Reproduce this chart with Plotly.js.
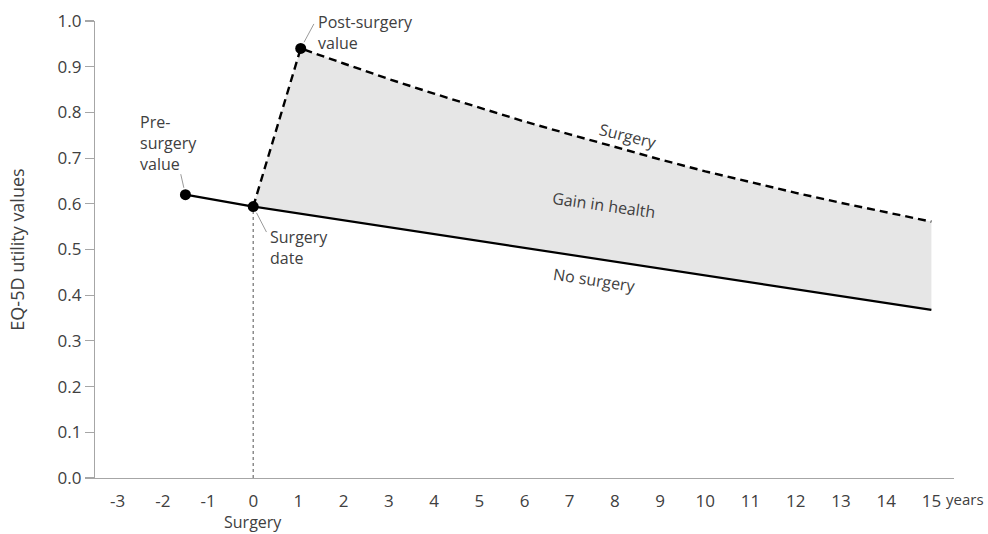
<!DOCTYPE html>
<html>
<head>
<meta charset="utf-8">
<script src="https://cdn.plot.ly/plotly-3.0.1.min.js"></script>
<style>
  html, body { margin: 0; padding: 0; background: #fff; }
  #chart { width: 988px; height: 534px; }
</style>
</head>
<body>
<div id="chart"></div>
<script>
// ---- data ----
const tickYears = [-3, -2, -1, 0, 1, 2, 3, 4, 5, 6, 7, 8, 9, 10, 11, 12, 13, 14, 15];
const tickLabels = ['-3', '-2', '-1', '0', '1', '2', '3', '4', '5', '6', '7', '8', '9', '10', '11', '12', '13', '14', '15'];
const tickBoundaries = [-3.5, -2.5, -1.5, -0.5, 0.5, 1.5, 2.5, 3.5, 4.5, 5.5, 6.5, 7.5, 8.5, 9.5, 10.5, 11.5, 12.5, 13.5, 14.5, 15.5];

const noSurgeryYears = [-1.5, 0, 15];
const noSurgeryValues = [0.62, 0.594, 0.368];

const surgeryYears = [0, 1.05, 2, 3, 4, 5, 6, 7, 8, 9, 10, 11, 12, 13, 14, 15];
const surgeryValues = [0.594, 0.94, 0.907, 0.873, 0.841, 0.810, 0.780, 0.752, 0.724, 0.697, 0.671, 0.647, 0.624, 0.602, 0.581, 0.561];

const keyYears = [-1.5, 0, 1.05];
const keyValues = [0.62, 0.594, 0.94];

// ---- style ----
const FONT = 'Open Sans, sans-serif';
const TXT = '#404040';
const AXIS = '#a6a6a6';

// fill polygon built from the series
const fillX = surgeryYears.concat(noSurgeryYears.slice(1).reverse());
const fillY = surgeryValues.concat(noSurgeryValues.slice(1).reverse());

const traces = [
  { x: fillX, y: fillY, type: 'scatter', mode: 'lines', fill: 'toself',
    fillcolor: '#e6e6e6', line: { width: 0 }, hoverinfo: 'skip', showlegend: false },
  { x: [keyYears[1], keyYears[1]], y: [0, keyValues[1]], type: 'scatter', mode: 'lines',
    line: { color: '#8c8c8c', width: 1.5, dash: 'dot' }, showlegend: false },
  { x: noSurgeryYears, y: noSurgeryValues, type: 'scatter', mode: 'lines',
    line: { color: '#000', width: 2.2 }, showlegend: false },
  { x: surgeryYears, y: surgeryValues, type: 'scatter', mode: 'lines',
    line: { color: '#000', width: 2.4, dash: '8px,5px' }, showlegend: false },
  { x: keyYears, y: keyValues, type: 'scatter', mode: 'markers',
    marker: { color: '#000', size: 11 }, showlegend: false }
];

const annFont = { family: FONT, size: 16, color: TXT };
const annotations = [
  { x: keyYears[2], y: keyValues[2], ax: 14, ay: -26, xref: 'x', yref: 'y',
    text: '', showarrow: true, arrowhead: 0, arrowwidth: 0.8, arrowcolor: '#808080', standoff: 7 },
  { x: keyYears[0], y: keyValues[0], ax: -5, ay: -22, xref: 'x', yref: 'y',
    text: '', showarrow: true, arrowhead: 0, arrowwidth: 0.8, arrowcolor: '#808080', standoff: 7 },
  { x: keyYears[1], y: keyValues[1], ax: 14, ay: 27, xref: 'x', yref: 'y',
    text: '', showarrow: true, arrowhead: 0, arrowwidth: 0.8, arrowcolor: '#808080', standoff: 7 },
  { x: 1.38, y: 0.975, xref: 'x', yref: 'y', xanchor: 'left', yanchor: 'middle', align: 'left',
    text: 'Post-surgery<br>value', showarrow: false, font: annFont },
  { x: -2.55, y: 0.733, xref: 'x', yref: 'y', xanchor: 'left', yanchor: 'middle', align: 'left',
    text: 'Pre-<br>surgery<br>value', showarrow: false, font: annFont },
  { x: 0.33, y: 0.505, xref: 'x', yref: 'y', xanchor: 'left', yanchor: 'middle', align: 'left',
    text: 'Surgery<br>date', showarrow: false, font: annFont },
  { x: 8.3, y: 0.749, xref: 'x', yref: 'y', text: 'Surgery', showarrow: false,
    textangle: 14, font: annFont },
  { x: 7.75, y: 0.597, xref: 'x', yref: 'y', text: 'Gain in health', showarrow: false,
    textangle: 8, font: annFont },
  { x: 7.55, y: 0.433, xref: 'x', yref: 'y', text: 'No surgery', showarrow: false,
    textangle: 8.5, font: annFont },
  { x: 15, y: -0.047, xref: 'x', yref: 'paper', xanchor: 'left', yanchor: 'middle', xshift: 13,
    text: 'years', showarrow: false, font: { family: FONT, size: 15, color: TXT } },
  { x: 0, y: -0.096, xref: 'x', yref: 'paper', xanchor: 'center', yanchor: 'middle',
    text: 'Surgery', showarrow: false, font: annFont }
];

const layout = {
  width: 988, height: 534,
  margin: { l: 95, r: 34, t: 21, b: 56 },
  paper_bgcolor: '#fff', plot_bgcolor: '#fff',
  font: { family: FONT, size: 16, color: TXT },
  showlegend: false,
  xaxis: {
    range: [-3.5, 15.5], tickmode: 'array', tickvals: tickYears, ticktext: tickLabels,
    ticks: 'outside', ticklen: 7, tickcolor: 'rgba(0,0,0,0)',
    showline: true, linecolor: AXIS, linewidth: 1.2, showgrid: false, zeroline: false,
    tickfont: { family: FONT, size: 17, color: TXT }
  },
  xaxis2: {
    range: [-3.5, 15.5], overlaying: 'x', anchor: 'y', side: 'bottom',
    tickmode: 'array', tickvals: tickBoundaries, ticks: 'outside', ticklen: 8,
    tickcolor: AXIS, tickwidth: 1.2, showticklabels: false, showline: false,
    showgrid: false, zeroline: false
  },
  yaxis: {
    range: [0, 1], tickmode: 'linear', tick0: 0, dtick: 0.1, tickformat: '.1f',
    ticks: 'outside', ticklen: 9, tickcolor: AXIS, tickwidth: 1.2,
    showline: true, linecolor: AXIS, linewidth: 1.2, showgrid: false, zeroline: false,
    tickfont: { family: FONT, size: 17, color: TXT },
    title: { text: 'EQ-5D utility values', font: { family: FONT, size: 18, color: TXT }, standoff: 28 }
  },
  annotations: annotations
};

Plotly.newPlot('chart', traces, layout, { staticPlot: true, displayModeBar: false });
</script>
</body>
</html>
